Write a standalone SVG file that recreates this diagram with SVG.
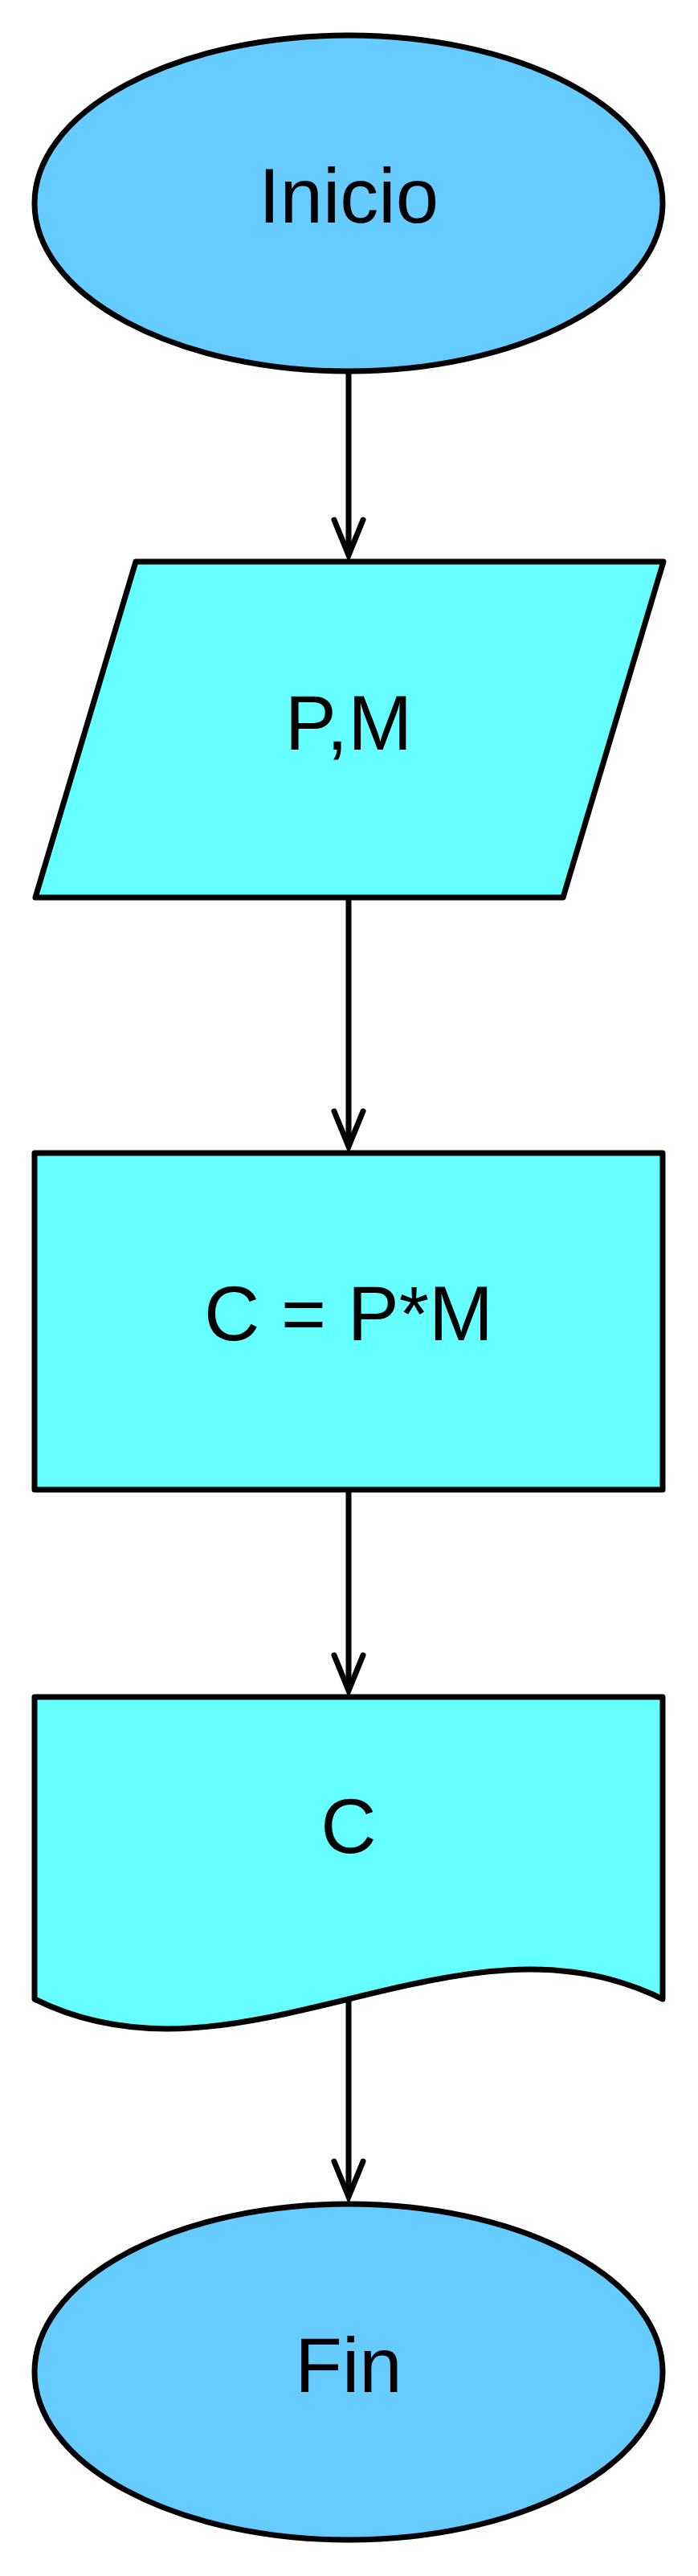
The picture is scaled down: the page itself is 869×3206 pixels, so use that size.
<svg xmlns="http://www.w3.org/2000/svg" width="869" height="3206" viewBox="0 0 869 3206">
  <style>
    .shape { stroke: #000000; stroke-width: 7; stroke-linejoin: round; }
    .term { fill: #66CCFF; }
    .box { fill: #66FFFF; }
    .label { font-family: "Liberation Sans", Arial, Helvetica, sans-serif; font-size: 96px; fill: #000000; text-anchor: middle; }
    .conn { stroke: #000000; stroke-width: 7; fill: none; }
  </style>
  <defs>
    <marker id="arrow" markerUnits="userSpaceOnUse" markerWidth="60" markerHeight="60" refX="0" refY="0" orient="auto" overflow="visible">
      <path d="M -44 -18 L 0 0 L -44 18" fill="none" stroke="#000000" stroke-width="7" stroke-linecap="round" stroke-linejoin="miter"/>
    </marker>
  </defs>
  <rect x="0" y="0" width="869" height="3206" fill="#FFFFFF"/>

  <g id="connectors">
    <path class="conn" d="M 434 462 L 434 691" marker-end="url(#arrow)"/>
    <path class="conn" d="M 434 1117 L 434 1427" marker-end="url(#arrow)"/>
    <path class="conn" d="M 434 1854 L 434 2104" marker-end="url(#arrow)"/>
    <path class="conn" d="M 434 2488 L 434 2734" marker-end="url(#arrow)"/>
  </g>

  <g id="node-inicio">
    <ellipse class="shape term" cx="434" cy="253" rx="391" ry="209"/>
    <text class="label" x="434" y="277">Inicio</text>
  </g>

  <g id="node-input">
    <polygon class="shape box" points="169,699 826,699 701,1117 44,1117"/>
    <text class="label" x="434" y="933">P,M</text>
  </g>

  <g id="node-process">
    <rect class="shape box" x="43" y="1435" width="782" height="419"/>
    <text class="label" x="434" y="1668">C = P*M</text>
  </g>

  <g id="node-output">
    <path class="shape box" d="M 43 2112 L 825 2112 L 825 2488 C 568 2360, 300 2616, 43 2488 Z"/>
    <text class="label" x="434" y="2306">C</text>
  </g>

  <g id="node-fin">
    <ellipse class="shape term" cx="434" cy="2952" rx="391" ry="209"/>
    <text class="label" x="434" y="2977">Fin</text>
  </g>
</svg>
